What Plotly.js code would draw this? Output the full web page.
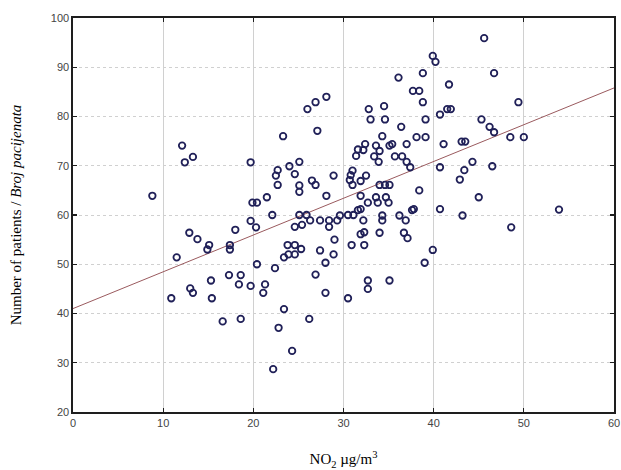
<!DOCTYPE html>
<html>
<head>
<meta charset="utf-8">
<script src="https://cdn.plot.ly/plotly-3.0.1.min.js"></script>
<style>html,body{margin:0;padding:0;background:#fff;}#chart{width:621px;height:470px;}</style>
</head>
<body>
<div id="chart"></div>
<script>
// NO2 concentration (µg/m3) per day
const no2 = [
  8.8, 10.9, 11.5, 12.1, 12.4, 13.3, 12.9, 13.0, 13.3, 13.8,
  15.1, 14.9, 15.3, 15.4, 16.6, 17.4, 17.4, 17.3, 18.6, 18.0,
  18.6, 18.4, 19.7, 19.7, 19.9, 20.4, 19.7, 20.3, 20.4,
  21.3, 21.1, 21.5, 22.1, 22.4, 22.2, 22.8, 23.4, 24.3, 22.7,
  22.5, 22.7, 23.3, 24.0, 24.6, 25.1, 25.1, 25.1, 26.0, 26.9,
  28.1, 27.1, 26.5, 26.9, 28.9, 28.1, 25.1, 25.9, 24.6, 25.4,
  26.3, 27.4, 28.4, 28.4, 29.3, 29.6, 29.0, 23.8, 24.6, 25.3,
  23.4, 23.9, 24.6, 27.4, 28.9, 28.0, 26.9, 28.0, 26.2,
  30.5, 30.5, 31.1, 31.6, 31.9, 32.2, 34.3, 34.3, 36.2, 36.9,
  37.6, 37.8, 40.7, 31.9, 32.3, 34.0, 36.7, 37.1, 30.9, 32.3,
  39.9, 39.0, 32.7, 32.7, 35.1, 31.0, 30.8, 30.7, 31.0, 32.5,
  31.9, 34.0, 34.6, 35.1, 38.4, 31.9, 33.6, 34.7, 32.7, 33.8,
  35.0, 32.4, 33.6, 35.1, 35.4, 37.0, 41.1, 31.6, 32.2, 34.0,
  31.4, 33.4, 33.9, 35.7, 36.5, 37.0, 37.4, 40.7, 32.8, 34.5,
  33.0, 34.6, 36.4, 34.3, 38.1, 39.1, 39.1, 40.7, 41.5, 41.9,
  37.7, 38.4, 38.8, 38.8, 36.1, 39.9, 40.2, 41.7,
  45.6, 46.7, 49.4, 45.3, 46.2, 46.7, 48.5, 50.0, 43.1, 43.5,
  44.3, 46.5, 43.4, 42.9, 45.0, 43.2, 53.9, 48.6
];
// Number of patients per day
const patients = [
  63.9, 43.1, 51.4, 74.1, 70.7, 71.8, 56.4, 45.1, 44.2, 55.1,
  53.9, 53.0, 46.7, 43.1, 38.4, 53.9, 53.0, 47.8, 47.8, 57.0,
  38.9, 45.9, 45.6, 70.7, 62.5, 62.5, 58.8, 57.5, 50.0,
  45.9, 44.2, 63.6, 60.0, 49.2, 28.7, 37.1, 40.9, 32.4, 69.1,
  68.0, 66.1, 76.0, 69.9, 68.3, 70.8, 66.0, 64.7, 81.5, 82.9,
  84.0, 77.1, 67.0, 66.1, 68.0, 63.9, 60.0, 60.0, 57.6, 58.0,
  58.9, 58.9, 58.9, 57.6, 58.9, 59.9, 55.0, 53.9, 53.9, 53.1,
  51.4, 52.0, 52.0, 52.8, 52.0, 50.3, 47.9, 44.2, 38.9,
  43.1, 60.0, 60.0, 61.0, 61.2, 58.9, 59.9, 58.9, 59.9, 58.9,
  61.0, 61.2, 61.2, 56.1, 56.5, 56.4, 56.4, 55.3, 53.9, 53.9,
  52.9, 50.3, 46.7, 45.0, 46.7, 69.0, 68.1, 67.1, 66.1, 68.0,
  66.9, 66.1, 66.1, 66.1, 65.0, 63.9, 63.6, 63.6, 62.5, 62.5,
  62.5, 74.4, 74.1, 74.1, 74.4, 74.4, 74.4, 73.3, 73.2, 73.0,
  72.0, 71.9, 70.8, 71.9, 71.9, 70.8, 69.7, 69.7, 81.5, 82.1,
  79.4, 79.4, 77.9, 76.0, 75.8, 75.8, 79.4, 80.4, 81.5, 81.5,
  85.2, 85.2, 82.9, 88.8, 87.9, 92.3, 91.1, 86.5,
  95.9, 88.8, 82.9, 79.4, 77.9, 76.8, 75.8, 75.8, 74.9, 74.9,
  70.8, 69.9, 69.1, 67.2, 63.6, 59.9, 61.1, 57.5
];
// Fitted linear regression line (end points)
const fitX = [0, 60];
const fitY = [41.0, 85.8];

const xTicks = [0, 10, 20, 30, 40, 50, 60];
const yTicks = [20, 30, 40, 50, 60, 70, 80, 90, 100];

const traces = [
  {
    x: fitX, y: fitY, type: 'scatter', mode: 'lines',
    line: {color: '#9a5a5e', width: 1},
    hoverinfo: 'skip', showlegend: false
  },
  {
    x: no2, y: patients, type: 'scatter', mode: 'markers',
    marker: {symbol: 'circle-open', size: 6.5, color: '#202058', line: {width: 1.8, color: '#202058'}},
    showlegend: false
  }
];

const axisCommon = {
  showline: true, linecolor: '#1e1e1e', linewidth: 1.6, mirror: 'ticks',
  ticks: 'inside', ticklen: 4, tickcolor: '#1e1e1e', tickwidth: 1.2,
  zeroline: false, showgrid: true, gridcolor: '#d0d0d0', gridwidth: 1,
  tickfont: {family: 'Liberation Sans, Arial, sans-serif', size: 11, color: '#444444'}
};

const layout = {
  width: 621, height: 470,
  margin: {l: 73, r: 7, t: 18, b: 58},
  paper_bgcolor: '#fff', plot_bgcolor: '#fff',
  xaxis: Object.assign({}, axisCommon, {
    range: [0, 60], tickvals: xTicks,
    title: {text: 'NO<sub>2</sub> µg/m<sup>3</sup>', standoff: 26,
      font: {family: 'Liberation Serif, Times New Roman, serif', size: 15, color: '#000'}}
  }),
  yaxis: Object.assign({}, axisCommon, {
    range: [20, 100], tickvals: yTicks, griddash: 'dot',
    ticksuffix: '\u00a0\u00a0\u00a0\u00a0\u00a0\u00a0',
    title: {text: 'Number of patients / <i>Broj pacijenata</i>', standoff: 25,
      font: {family: 'Liberation Serif, Times New Roman, serif', size: 15, color: '#000'}}
  })
};

Plotly.newPlot('chart', traces, layout, {displayModeBar: false, staticPlot: true});
</script>
</body>
</html>
